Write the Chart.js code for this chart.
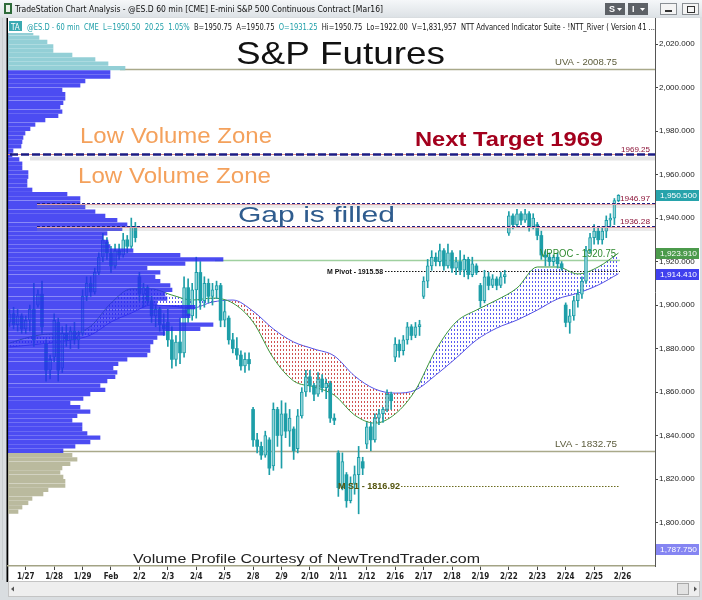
<!DOCTYPE html>
<html>
<head>
<meta charset="utf-8">
<script src="https://cdn.jsdelivr.net/npm/chart.js@4.4.1/dist/chart.umd.min.js"></script>
<style>
	html, body { margin: 0; padding: 0; background: #d9dde0; overflow: hidden; }
	canvas { display: block; }
</style>
</head>
<body>
<canvas id="spChart" width="702" height="600"></canvas>
<script>
/**
 * S&P Futures 60 min – candles, volume profile, MA river, levels
 */

/* ═══ DATA ═══ */

var dayLabels = [ '1/27', '1/28', '1/29', 'Feb', '2/2', '2/3', '2/4', '2/5', '2/8', '2/9', '2/10',
	'2/11', '2/12', '2/16', '2/17', '2/18', '2/19', '2/22', '2/23', '2/24', '2/25', '2/26' ];
var dayStarts = [ 4, 11, 18, 25, 32, 39, 46, 53, 60, 67, 74, 81, 88, 95, 102, 109, 116, 123, 130, 137, 144, 151 ];

// hourly bars, 1/26 tail then 7 bars per session
var opens = [
	1892, 1896, 1891, 1895,
	1889, 1893, 1898, 1900, 1905, 1882, 1870,
	1876, 1892, 1871, 1887, 1884, 1888, 1884,
	1887, 1904, 1910, 1906, 1915, 1922, 1929,
	1924, 1918, 1925, 1923, 1930, 1927, 1936,
	1913, 1905, 1908, 1902, 1895, 1898, 1891,
	1892, 1884, 1875, 1883, 1878, 1908, 1895,
	1907, 1915, 1902, 1910, 1904, 1907, 1909,
	1893, 1894, 1884, 1880, 1877, 1872, 1875,
	1852, 1838, 1835, 1831, 1838, 1826, 1852,
	1840, 1850, 1842, 1843, 1834, 1849, 1860,
	1867, 1863, 1859, 1866, 1862, 1864, 1848,
	1832, 1816, 1822, 1810, 1818, 1822, 1828,
	1836, 1844, 1838, 1848, 1850, 1852, 1859,
	1876, 1882, 1879, 1884, 1890, 1886, 1890,
	1904, 1911, 1918, 1922, 1920, 1925, 1918,
	1924, 1917, 1920, 1916, 1921, 1914, 1918,
	1909, 1902, 1913, 1909, 1912, 1909, 1913,
	1933, 1941, 1937, 1942, 1939, 1942, 1936,
	1937, 1932, 1923, 1922, 1920, 1922, 1919,
	1900, 1892, 1895, 1902, 1905, 1911, 1925,
	1931, 1934, 1930, 1934, 1939, 1940, 1948
];
var highs = [
	1898, 1899, 1898, 1896,
	1895, 1900, 1910, 1907, 1911, 1884, 1877,
	1896, 1894, 1890, 1891, 1890, 1892, 1888,
	1907, 1913, 1913, 1917, 1924, 1933, 1931,
	1927, 1928, 1928, 1933, 1932, 1940, 1938,
	1915, 1910, 1909, 1904, 1900, 1899, 1896,
	1898, 1890, 1886, 1894, 1913, 1912, 1910,
	1922, 1920, 1913, 1912, 1910, 1911, 1910,
	1902, 1895, 1887, 1885, 1879, 1878, 1878,
	1853, 1841, 1837, 1842, 1839, 1855, 1853,
	1856, 1855, 1852, 1844, 1852, 1862, 1870,
	1870, 1864, 1869, 1868, 1866, 1865, 1850,
	1833, 1832, 1823, 1821, 1826, 1835, 1830,
	1846, 1846, 1850, 1852, 1853, 1861, 1860,
	1885, 1884, 1886, 1892, 1891, 1892, 1893,
	1913, 1921, 1925, 1924, 1928, 1926, 1928,
	1925, 1922, 1925, 1923, 1922, 1922, 1919,
	1910, 1916, 1915, 1914, 1913, 1915, 1916,
	1943, 1942, 1944, 1943, 1944, 1943, 1942,
	1938, 1934, 1925, 1924, 1923, 1924, 1920,
	1901, 1898, 1904, 1907, 1913, 1927, 1933,
	1937, 1936, 1936, 1941, 1942, 1949, 1950.75
];
var lows = [
	1890, 1889, 1888, 1887,
	1887, 1888, 1881, 1899, 1887, 1865, 1866,
	1874, 1865, 1869, 1881, 1880, 1882, 1880,
	1886, 1902, 1904, 1905, 1914, 1920, 1921,
	1915, 1917, 1921, 1922, 1924, 1926, 1929,
	1902, 1899, 1900, 1892, 1890, 1888, 1886,
	1881, 1871, 1872, 1873, 1876, 1892, 1893,
	1894, 1898, 1899, 1901, 1900, 1903, 1890,
	1890, 1882, 1878, 1875, 1870, 1869, 1870,
	1835, 1832, 1829, 1830, 1822, 1824, 1835,
	1825, 1839, 1835, 1829, 1832, 1848, 1858,
	1860, 1856, 1858, 1860, 1857, 1846, 1845,
	1812, 1815, 1807, 1809, 1813, 1804, 1822,
	1834, 1833, 1837, 1845, 1846, 1851, 1852,
	1874, 1876, 1877, 1882, 1884, 1885, 1886,
	1903, 1908, 1916, 1918, 1918, 1916, 1917,
	1915, 1914, 1914, 1913, 1912, 1913, 1914,
	1899, 1901, 1907, 1908, 1907, 1908, 1910,
	1932, 1935, 1936, 1937, 1938, 1934, 1935,
	1930, 1921, 1918, 1918, 1918, 1917, 1916,
	1890, 1887, 1893, 1899, 1903, 1910, 1924,
	1928, 1928, 1928, 1931, 1936, 1937, 1947.5
];
var closes = [
	1896, 1891, 1895, 1889,
	1893, 1898, 1884, 1905, 1890, 1870, 1875,
	1893, 1870, 1887, 1884, 1888, 1884, 1886,
	1904, 1910, 1906, 1915, 1922, 1930, 1924,
	1918, 1925, 1923, 1930, 1927, 1936, 1931,
	1905, 1908, 1902, 1895, 1898, 1891, 1889,
	1884, 1875, 1883, 1878, 1908, 1895, 1907,
	1915, 1902, 1910, 1904, 1907, 1909, 1893,
	1897, 1884, 1880, 1877, 1872, 1875, 1873,
	1838, 1835, 1831, 1840, 1825, 1852, 1840,
	1850, 1842, 1848, 1833, 1849, 1860, 1867,
	1863, 1859, 1866, 1862, 1864, 1848, 1847,
	1816, 1828, 1810, 1818, 1822, 1830, 1825,
	1844, 1838, 1848, 1850, 1852, 1859, 1856,
	1882, 1879, 1884, 1890, 1886, 1890, 1891,
	1911, 1918, 1922, 1920, 1925, 1918, 1924,
	1917, 1920, 1916, 1921, 1914, 1919, 1915,
	1902, 1913, 1909, 1912, 1909, 1913, 1914,
	1941, 1937, 1942, 1939, 1942, 1936, 1940,
	1932, 1923, 1922, 1920, 1922, 1919, 1917,
	1892, 1895, 1902, 1905, 1911, 1925, 1931,
	1934, 1930, 1934, 1939, 1940, 1948, 1950.5
];

// NTT River: fast / slow averages, read every 5 bars
var riverIndex = [ 0, 5, 10, 15, 20, 25, 30, 35, 40, 45, 50, 55, 60, 65, 70, 75,
	80, 85, 90, 95, 100, 105, 110, 115, 120, 125, 130, 135, 140, 145, 150 ];
var fastRiver = [ 1882.5, 1885.3, 1886.7, 1886.7, 1890.3, 1900.9, 1907.4, 1907.4, 1904.6, 1902.3,
	1903.2, 1900.9, 1892.2, 1875.6, 1865.1, 1862.3, 1858.6, 1849.4, 1845.7, 1849.9,
	1860.9, 1879.3, 1892.2, 1897.7, 1902.3, 1907.8, 1917.5, 1917.5, 1914.3, 1917.5, 1923.91 ];
var slowRiver = [ 1880.7, 1881.6, 1882.5, 1883.9, 1886.2, 1892.2, 1896.3, 1900.0, 1899.5, 1898.6,
	1901.4, 1902.3, 1897.2, 1889.0, 1883.0, 1879.8, 1876.6, 1867.4, 1861.4, 1859.5,
	1860.9, 1867.8, 1875.6, 1883.9, 1889.4, 1893.1, 1897.7, 1902.8, 1905.5, 1909.2, 1914.41 ];

// Volume profile (2 point bins)
var profileLevels = [ 2031, 2029, 2027, 2025, 2023, 2021, 2019, 2017, 2015, 2013, 2011, 2009,
	2007, 2005, 2003, 2001, 1999, 1997, 1995, 1993, 1991, 1989, 1987, 1985, 1983, 1981,
	1979, 1977, 1975, 1973, 1971, 1969, 1967, 1965, 1963, 1961, 1959, 1957, 1955, 1953,
	1951, 1949, 1947, 1945, 1943, 1941, 1939, 1937, 1935, 1933, 1931, 1929, 1927, 1925,
	1923, 1921, 1919, 1917, 1915, 1913, 1911, 1909, 1907, 1905, 1903, 1901, 1899, 1897,
	1895, 1893, 1891, 1889, 1887, 1885, 1883, 1881, 1879, 1877, 1875, 1873, 1871, 1869,
	1867, 1865, 1863, 1861, 1859, 1857, 1855, 1853, 1851, 1849, 1847, 1845, 1843, 1841,
	1839, 1837, 1835, 1833, 1831, 1829, 1827, 1825, 1823, 1821, 1819, 1817, 1815, 1813,
	1811, 1809, 1807, 1805 ];
var profileVolume = [ 20, 21, 23, 25, 31, 39, 45, 45, 64, 87, 100, 117,
	102, 102, 77, 72, 54, 57, 57, 55, 52, 54, 50, 37, 27, 22,
	17, 15, 14, 13, 5, 4, 11, 14, 14, 20, 20, 19, 19, 24,
	59, 72, 72, 77, 87, 97, 109, 119, 114, 99, 95, 100, 102, 125,
	172, 215, 177, 139, 152, 147, 152, 162, 164, 157, 159, 149, 187, 179,
	182, 172, 205, 192, 157, 149, 145, 142, 142, 139, 119, 110, 105, 109,
	107, 99, 92, 97, 82, 75, 62, 72, 82, 69, 64, 74, 74, 79,
	92, 82, 67, 55, 64, 69, 62, 54, 52, 55, 57, 57, 40, 35,
	24, 20, 14, 10 ];

var priceTicks = [ 1800, 1820, 1840, 1860, 1880, 1900, 1920, 1940, 1960, 1980, 2000, 2020 ];

var upperValueArea = 2008.75;
var lowerValueArea = 1832.75;
var profilePoc     = 1920.75;
var monthPivot     = 1915.58;
var monthS1        = 1816.92;
var nextTarget     = 1969.25;
var gapTop         = 1946.97;
var gapBottom      = 1936.28;
var lastPrice      = 1950.50;
var scaleLow       = 1787.75;

/* ═══ HELPERS ═══ */

var NARROW = '"Liberation Sans Narrow", "Arial Narrow", "DejaVu Sans Condensed", sans-serif';
var ARIAL  = '"Liberation Sans", Arial, sans-serif';
var TEAL   = '#1d9ea8';

function fitText( ctx, str, x, y, w ) {
	var m = ctx.measureText( str ).width;
	ctx.save();
	ctx.translate( x, y );
	ctx.scale( w / m, 1 );
	ctx.fillText( str, 0, 0 );
	ctx.restore();
}

function dotPattern( color ) {
	var c = document.createElement( 'canvas' );
	c.width = 3; c.height = 4;
	var g = c.getContext( '2d' );
	g.fillStyle = color;
	g.fillRect( 1, 1, 1, 2 );
	return g.createPattern( c, 'repeat' );
}

function fmtPrice( v ) {
	return Number( v ).toLocaleString( 'en-US', { minimumFractionDigits: 3, maximumFractionDigits: 3 } );
}

function hLine( ctx, y, x1, x2, color, width, dash ) {
	ctx.save();
	ctx.strokeStyle = color;
	ctx.lineWidth = width;
	ctx.setLineDash( dash || [] );
	ctx.beginPath();
	ctx.moveTo( x1, y );
	ctx.lineTo( x2, y );
	ctx.stroke();
	ctx.restore();
}

/* ═══ WINDOW CHROME ═══ */

var chromePlugin = {
	id: 'chrome',
	beforeDraw: function( chart ) {
		var ctx = chart.ctx, a = chart.chartArea;
		ctx.save();
		ctx.fillStyle = '#d9dde0';
		ctx.fillRect( 0, 0, 702, 600 );

		var g = ctx.createLinearGradient( 0, 0, 0, 17 );
		g.addColorStop( 0, '#f5f7f9' );
		g.addColorStop( 1, '#dde2e6' );
		ctx.fillStyle = g;
		ctx.fillRect( 0, 0, 702, 17 );

		// app icon
		ctx.fillStyle = '#2e6b3a';
		ctx.fillRect( 4, 3, 8, 11 );
		ctx.fillStyle = '#e8f0e8';
		ctx.fillRect( 6, 5, 4, 7 );

		ctx.fillStyle = '#111';
		ctx.font = '9px ' + NARROW;
		ctx.textBaseline = 'alphabetic';
		fitText( ctx, 'TradeStation Chart Analysis - @ES.D 60 min [CME] E-mini S&P 500 Continuous Contract [Mar16]', 15, 12, 368 );

		// S / I buttons
		[ [ 605, 'S' ], [ 628, 'I' ] ].forEach( function( b ) {
			ctx.fillStyle = '#5d6166';
			ctx.fillRect( b[0], 3, 20, 12 );
			ctx.fillStyle = '#fff';
			ctx.font = 'bold 9px ' + ARIAL;
			ctx.fillText( b[1], b[0] + 4, 12 );
			ctx.beginPath();
			ctx.moveTo( b[0] + 12, 8 ); ctx.lineTo( b[0] + 17, 8 ); ctx.lineTo( b[0] + 14.5, 11 );
			ctx.fill();
		});
		// window buttons
		[ 660, 682 ].forEach( function( x ) {
			ctx.fillStyle = '#f4f4f4';
			ctx.fillRect( x, 3, 17, 12 );
			ctx.strokeStyle = '#8a8f94';
			ctx.strokeRect( x + 0.5, 3.5, 16, 11 );
		});
		ctx.fillStyle = '#333';
		ctx.fillRect( 665, 10, 7, 2 );
		ctx.strokeStyle = '#333';
		ctx.strokeRect( 687.5, 6.5, 7, 6 );

		// plot + axis background
		ctx.fillStyle = '#fff';
		ctx.fillRect( a.left, a.top, 700 - a.left, 581 - a.top );

		// left frame
		ctx.fillStyle = '#c9cdd0';
		ctx.fillRect( 2, a.top, 1, 580 - a.top );
		ctx.fillStyle = '#000';
		ctx.fillRect( 6.5, a.top, 1.8, 582 - a.top );

		// scrollbar
		ctx.fillStyle = '#eeeeee';
		ctx.fillRect( 8, 581, 692, 16 );
		ctx.strokeStyle = '#c4c4c4';
		ctx.strokeRect( 8.5, 581.5, 691, 15 );
		ctx.fillStyle = '#555';
		ctx.beginPath();
		ctx.moveTo( 11, 589 ); ctx.lineTo( 14, 586.5 ); ctx.lineTo( 14, 591.5 ); ctx.fill();
		ctx.beginPath();
		ctx.moveTo( 697, 589 ); ctx.lineTo( 694, 586.5 ); ctx.lineTo( 694, 591.5 ); ctx.fill();
		ctx.fillStyle = '#e2e2e2';
		ctx.fillRect( 677, 583, 12, 12 );
		ctx.strokeStyle = '#a8a8a8';
		ctx.strokeRect( 677.5, 583.5, 11, 11 );
		ctx.restore();
	}
};

/* ═══ LEVEL LINES (under the bars) ═══ */

var levelsPlugin = {
	id: 'levels',
	beforeDatasetsDraw: function( chart ) {
		var ctx = chart.ctx, a = chart.chartArea, y = chart.scales.y;
		ctx.save();
		hLine( ctx, Math.round( y.getPixelForValue( upperValueArea ) ) + 0.5, 120, a.right, '#a9a98a', 1.5 );
		hLine( ctx, Math.round( y.getPixelForValue( lowerValueArea ) ) + 0.5, 60, a.right, '#a9a98a', 1.5 );
		hLine( ctx, Math.round( y.getPixelForValue( profilePoc ) ) + 0.5, 215, 620, '#9fd09f', 1.5 );
		hLine( ctx, Math.round( y.getPixelForValue( monthPivot ) ) + 0.5, 385, 620, '#111', 1.2, [ 1.5, 1.5 ] );
		hLine( ctx, Math.round( y.getPixelForValue( monthS1 ) ) + 0.5, 401, 620, '#6b6b1e', 1.2, [ 1.5, 1.5 ] );
		ctx.restore();
	}
};

/* ═══ TARGET LINES + TEXT ═══ */

var notesPlugin = {
	id: 'notes',
	afterDatasetsDraw: function( chart ) {
		var ctx = chart.ctx, a = chart.chartArea, y = chart.scales.y;
		ctx.save();

		// target + gap lines with soft shadow
		var yT = Math.round( y.getPixelForValue( nextTarget ) ) + 0.5;
		var yG1 = Math.round( y.getPixelForValue( gapTop ) ) + 0.5;
		var yG2 = Math.round( y.getPixelForValue( gapBottom ) ) + 0.5;

		hLine( ctx, yT + 4, 30, a.right, 'rgba(150,150,150,0.25)', 4 );
		hLine( ctx, yG1 + 3, 37, a.right, 'rgba(150,150,150,0.2)', 3 );
		hLine( ctx, yG2 + 3, 37, a.right, 'rgba(150,150,150,0.2)', 3 );

		hLine( ctx, yT, 8, a.right, '#d88a8a', 1 );
		hLine( ctx, yT, 10, a.right, '#1c1c84', 2.5, [ 8, 3 ] );
		hLine( ctx, yG1 + 1, 37, a.right, '#e0a0a0', 1 );
		hLine( ctx, yG1, 37, a.right, '#1c1c84', 1, [ 3, 2 ] );
		hLine( ctx, yG2 + 1, 37, a.right, '#e0a0a0', 1 );
		hLine( ctx, yG2, 37, a.right, '#1c1c84', 1, [ 3, 2 ] );

		// info row
		ctx.fillStyle = '#fff';
		ctx.fillRect( a.left, a.top, a.right - a.left, 15 );
		ctx.fillStyle = '#3aa9b1';
		ctx.fillRect( 9, 21, 13, 10 );
		ctx.fillStyle = '#fff';
		ctx.font = '8px ' + NARROW;
		ctx.fillText( 'TA', 11, 29.5 );

		var parts = [
			[ '@ES.D - 60 min  CME  L=1950.50  20.25  1.05%  ', TEAL ],
			[ 'B=1950.75  A=1950.75  ', '#111' ],
			[ 'O=1931.25  ', TEAL ],
			[ 'Hi=1950.75  Lo=1922.00  V=1,831,957  NTT Advanced Indicator Suite - !NTT_River ( Version 41 ...', '#111' ]
		];
		ctx.font = '9px ' + NARROW;
		var full = parts.map( function( p ) { return p[0]; } ).join( '' );
		var k = 628 / ctx.measureText( full ).width;
		var cx = 27;
		parts.forEach( function( p ) {
			ctx.fillStyle = p[1];
			ctx.save();
			ctx.translate( cx, 30 );
			ctx.scale( k, 1 );
			ctx.fillText( p[0], 0, 0 );
			ctx.restore();
			cx += ctx.measureText( p[0] ).width * k;
		});

		// headline texts
		ctx.fillStyle = '#111';
		ctx.font = '32px ' + ARIAL;
		fitText( ctx, 'S&P Futures', 236, 64, 209 );

		ctx.fillStyle = '#f4a15c';
		ctx.font = '22px ' + ARIAL;
		fitText( ctx, 'Low Volume Zone', 80, 143, 192 );
		fitText( ctx, 'Low Volume Zone', 78, 183, 193 );

		ctx.fillStyle = '#a3001d';
		ctx.font = 'bold 20px ' + ARIAL;
		fitText( ctx, 'Next Target 1969', 415, 146, 188 );

		ctx.fillStyle = '#2f5c8e';
		ctx.font = '22px ' + ARIAL;
		fitText( ctx, 'Gap is filled', 238, 222, 157 );

		ctx.fillStyle = '#222';
		ctx.font = '13px ' + ARIAL;
		fitText( ctx, 'Volume Profile Courtesy of NewTrendTrader.com', 133, 563, 347 );

		// level labels
		ctx.fillStyle = '#5c5c3c';
		ctx.font = '9px ' + ARIAL;
		fitText( ctx, 'UVA - ' + upperValueArea.toFixed( 2 ), 555, y.getPixelForValue( upperValueArea ) - 4, 62 );
		fitText( ctx, 'LVA - ' + lowerValueArea.toFixed( 2 ), 555, y.getPixelForValue( lowerValueArea ) - 4, 62 );

		ctx.fillStyle = '#2f8a2f';
		ctx.font = '10px ' + ARIAL;
		fitText( ctx, 'VPPOC - ' + profilePoc.toFixed( 2 ), 540, y.getPixelForValue( profilePoc ) - 3, 76 );

		ctx.fillStyle = '#111';
		ctx.font = 'bold 8px ' + ARIAL;
		fitText( ctx, 'M Pivot - ' + monthPivot.toFixed( 2 ), 327, y.getPixelForValue( monthPivot ) + 3, 56 );

		ctx.fillStyle = '#55550e';
		ctx.font = 'bold 9px ' + ARIAL;
		fitText( ctx, 'M S1 - ' + monthS1.toFixed( 2 ), 338, y.getPixelForValue( monthS1 ) + 3.5, 62 );

		ctx.fillStyle = '#8c1438';
		ctx.font = '8px ' + ARIAL;
		fitText( ctx, nextTarget.toFixed( 2 ), 621, yT - 3, 29 );
		fitText( ctx, gapTop.toFixed( 2 ), 620, yG1 - 3, 30 );
		fitText( ctx, gapBottom.toFixed( 2 ), 620, yG2 - 3, 30 );

		ctx.restore();
	}
};

/* ═══ AXIS BADGES ═══ */

var badgePlugin = {
	id: 'badges',
	afterDraw: function( chart ) {
		var ctx = chart.ctx, y = chart.scales.y;
		var badges = [
			[ lastPrice, '#27a3ab' ],
			[ fastRiver[ fastRiver.length - 1 ], '#4b9a4b' ],
			[ slowRiver[ slowRiver.length - 1 ], '#4040ee' ],
			[ scaleLow, '#8585f2' ]
		];
		ctx.save();
		ctx.font = '8px ' + ARIAL;
		ctx.textBaseline = 'middle';
		badges.forEach( function( b ) {
			var py = Math.round( y.getPixelForValue( b[0] ) );
			ctx.fillStyle = b[1];
			ctx.fillRect( 656, py - 5, 43, 11 );
			ctx.fillStyle = '#fff';
			fitText( ctx, fmtPrice( b[0] ), 660, py + 0.5, 37 );
		});
		ctx.restore();
	}
};

/* ═══ CHART ═══ */

var bluePattern = dotPattern( '#5a5af0' );
var redPattern  = dotPattern( '#d05252' );

function profileColor( p ) {
	if ( p > upperValueArea ) return 'rgba(135,202,210,0.9)';
	if ( p < lowerValueArea ) return 'rgba(178,178,148,0.9)';
	return 'rgba(42,42,240,0.84)';
}

var candleIdx = opens.map( function( o, i ) { return i; } );

new Chart( document.getElementById( 'spChart' ).getContext( '2d' ), {
	type: 'bar',
	data: {
		datasets: [
			{
				label: 'Volume Profile',
				type: 'bar',
				indexAxis: 'y',
				xAxisID: 'vx',
				yAxisID: 'y',
				data: profileLevels.map( function( p, i ) { return { x: profileVolume[i], y: p }; } ),
				backgroundColor: function( c ) { return profileColor( profileLevels[ c.dataIndex ] ); },
				barThickness: 3.6,
				grouped: false,
				borderWidth: 0,
				order: 0
			},
			{
				label: 'Range',
				type: 'bar',
				xAxisID: 'x',
				yAxisID: 'y',
				data: candleIdx.map( function( i ) { return { x: i, y: [ lows[i], highs[i] ] }; } ),
				backgroundColor: TEAL,
				barThickness: 1,
				grouped: false,
				borderWidth: 0,
				order: 2
			},
			{
				label: 'Body',
				type: 'bar',
				xAxisID: 'x',
				yAxisID: 'y',
				data: candleIdx.map( function( i ) { return { x: i, y: [ opens[i], closes[i] ] }; } ),
				backgroundColor: function( c ) {
					var i = c.dataIndex;
					return closes[i] >= opens[i] ? '#93d5d9' : TEAL;
				},
				borderColor: TEAL,
				borderWidth: function( c ) {
					var i = c.dataIndex;
					return closes[i] >= opens[i] ? 1 : 0;
				},
				borderSkipped: false,
				minBarLength: 1,
				barThickness: 3,
				grouped: false,
				order: 1
			},
			{
				label: 'Fast',
				type: 'line',
				xAxisID: 'x',
				yAxisID: 'y',
				data: riverIndex.map( function( x, i ) { return { x: x, y: fastRiver[i] }; } ),
				borderColor: '#3c963c',
				borderWidth: 1,
				pointRadius: 0,
				cubicInterpolationMode: 'monotone',
				fill: { target: '+1', above: bluePattern, below: redPattern },
				order: 3
			},
			{
				label: 'Slow',
				type: 'line',
				xAxisID: 'x',
				yAxisID: 'y',
				data: riverIndex.map( function( x, i ) { return { x: x, y: slowRiver[i] }; } ),
				borderColor: '#5050e8',
				borderWidth: 1,
				pointRadius: 0,
				cubicInterpolationMode: 'monotone',
				fill: false,
				order: 4
			}
		]
	},
	options: {
		responsive: false,
		animation: false,
		devicePixelRatio: 1,
		layout: { padding: { top: 18, left: 8, right: 0, bottom: 0 } },
		plugins: {
			legend: { display: false },
			tooltip: { enabled: false }
		},
		scales: {
			x: {
				type: 'linear',
				position: 'bottom',
				min: -0.37,
				max: 159,
				offset: false,
				grid: { offset: false, drawOnChartArea: false, tickLength: 4, color: '#444' },
				border: { color: '#a3a385', width: 1.5 },
				ticks: {
					autoSkip: false,
					maxRotation: 0,
					padding: 2,
					color: '#222',
					font: { size: 8, weight: 'bold', family: NARROW },
					callback: function( v ) {
						var k = dayStarts.indexOf( v );
						return k < 0 ? '' : dayLabels[k];
					}
				},
				afterBuildTicks: function( s ) {
					s.ticks = dayStarts.map( function( v ) { return { value: v }; } );
				},
				afterFit: function( s ) { s.height = 34; }
			},
			vx: {
				type: 'linear',
				axis: 'x',
				position: 'bottom',
				display: false,
				offset: false,
				min: 0,
				max: 647
			},
			y: {
				type: 'linear',
				position: 'right',
				min: 1780,
				max: 2032,
				offset: false,
				beginAtZero: false,
				grid: { offset: false, drawOnChartArea: false, tickLength: 3, color: '#444' },
				border: { color: '#555' },
				ticks: {
					padding: 1,
					color: '#222',
					font: { size: 8, family: ARIAL },
					callback: function( v ) { return fmtPrice( v ); }
				},
				afterBuildTicks: function( s ) {
					s.ticks = priceTicks.map( function( v ) { return { value: v }; } );
				},
				afterFit: function( s ) { s.width = 47; }
			}
		}
	},
	plugins: [ chromePlugin, levelsPlugin, notesPlugin, badgePlugin ]
});
</script>
</body>
</html>
